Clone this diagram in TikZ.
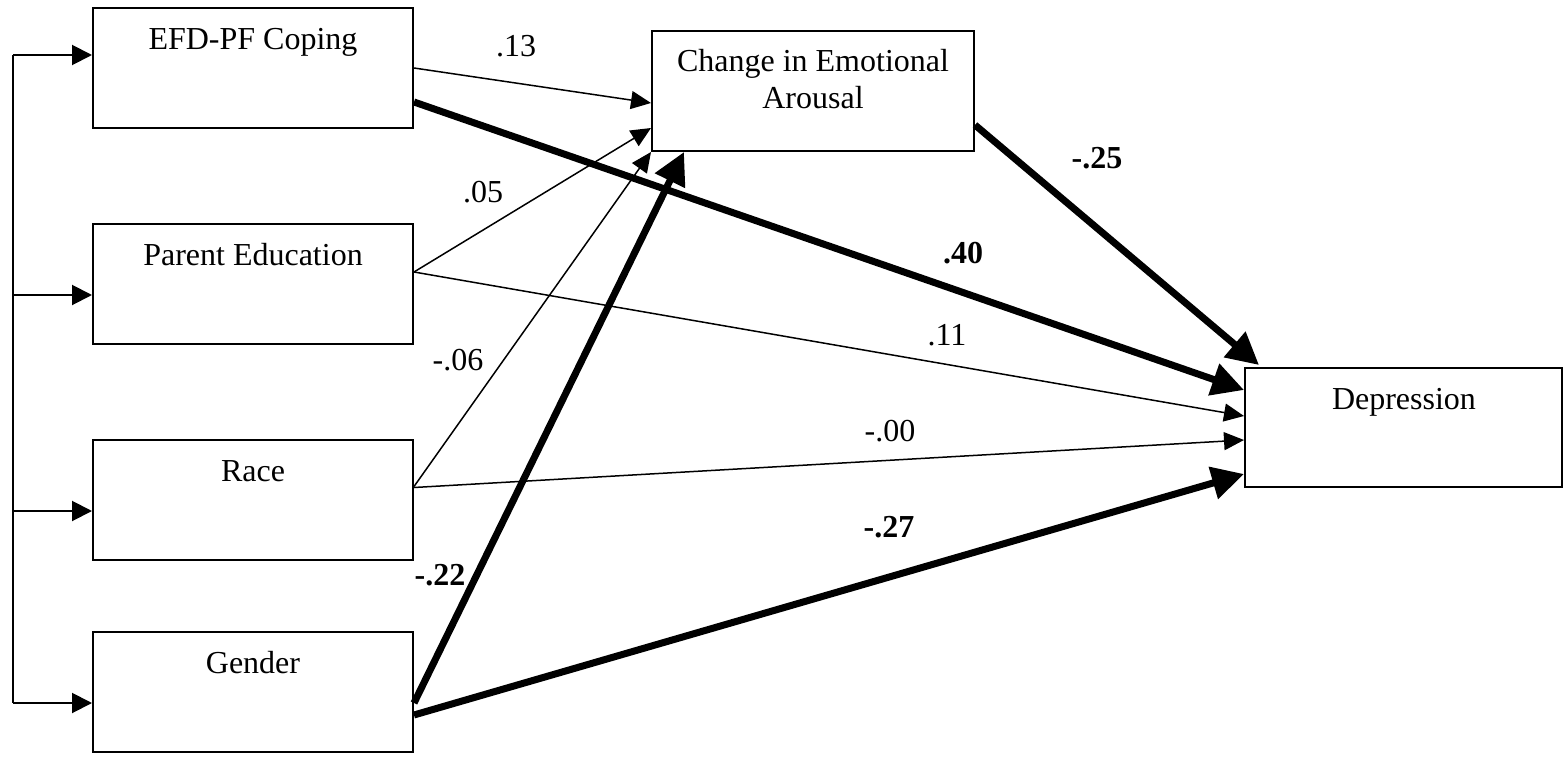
\documentclass[tikz,border=0pt]{standalone}
\usepackage{fontspec}
\setmainfont{Liberation Serif}
\usetikzlibrary{arrows.meta,calc}
\begin{document}
\begin{tikzpicture}[x=1pt,y=-1pt,
  box/.style={draw,line width=2pt,minimum width=320pt,minimum height=120pt,inner sep=0pt},
  txt/.style={font=\fontsize{32}{38}\selectfont,inner sep=0pt,anchor=base},
  coef/.style={txt},
  boldcoef/.style={txt,font=\fontsize{32}{38}\selectfont\bfseries},
  weak/.style={line width=1.5pt,-{Triangle[length=20pt,width=18pt]}},
  strong/.style={line width=7pt,-{Triangle[length=32pt,width=32pt]}},
  feed/.style={line width=2pt,-{Triangle[length=20pt,width=20pt]}},
]
\useasboundingbox (0,0) rectangle (1564,760);

% variable boxes
\node[box] (efd) at (253,68) {};
\node[box] (par) at (253,284) {};
\node[box] (race) at (253,499.5) {};
\node[box] (gen) at (253,692) {};
\node[box,minimum width=322pt] (cea) at (813,91) {};
\node[box,minimum width=317pt,minimum height=119pt] (dep) at (1403.5,427.5) {};

% box titles
\node[txt] (efdt) at (253,50) {EFD-PF Coping};
\node[txt] (part) at (253,265) {Parent Education};
\node[txt] (racet) at (253,481) {Race};
\node[txt] (gent) at (253,673) {Gender};
\node[txt] (ceat1) at (813,71) {Change in Emotional};
\node[txt] (ceat2) at (813,108) {Arousal};
\node[txt] (dept) at (1404,409) {Depression};

% correlation bus on the left
\coordinate (busx) at (13,0);
\coordinate (efdin) at ($(efd.west)+(0,-13)$);
\coordinate (parin) at ($(par.west)+(0,11)$);
\coordinate (racein) at ($(race.west)+(0,11.5)$);
\coordinate (genin) at ($(gen.west)+(0,11)$);
\draw[line width=2pt] (busx |- efdin) -- (busx |- genin);
\draw[feed] (busx |- efdin) -- (efdin);
\draw[feed] (busx |- parin) -- (parin);
\draw[feed] (busx |- racein) -- (racein);
\draw[feed] (busx |- genin) -- (genin);

% paths to change in emotional arousal
\draw[weak] (efd.east) -- ($(cea.west)+(0,12)$);
\draw[weak] ($(par.east)+(0,-12)$) -- ($(cea.west)+(0,37)$);
\draw[weak] ($(race.east)+(0,-13)$) -- (cea.south west);
\draw[strong] ($(gen.east)+(0,11)$) -- ($(cea.south west)+(33,0)$);

% paths to depression
\draw[strong] ($(efd.east)+(0,34)$) -- ($(dep.west)+(0,-37.5)$);
\draw[weak] ($(par.east)+(0,-12)$) -- ($(dep.west)+(0,-11.5)$);
\draw[weak] ($(race.east)+(0,-12)$) -- ($(dep.west)+(0,12.5)$);
\draw[strong] ($(gen.east)+(0,23)$) -- ($(dep.west)+(0,46.5)$);
\draw[strong] ($(cea.east)+(0,34)$) -- ($(dep.north west)+(15,-2)$);

% path coefficients
\node[coef] (c13) at (516,57) {.13};
\node[coef] (c05) at (483,202) {.05};
\node[coef] (c06) at (458,370) {-.06};
\node[boldcoef] (c22) at (440,585) {-.22};
\node[boldcoef] (c40) at (963,263) {.40};
\node[coef] (c11) at (947,345) {.11};
\node[coef] (c00) at (890,441) {-.00};
\node[boldcoef] (c27) at (889,537) {-.27};
\node[boldcoef] (c25) at (1097,168) {-.25};
\end{tikzpicture}
\end{document}
